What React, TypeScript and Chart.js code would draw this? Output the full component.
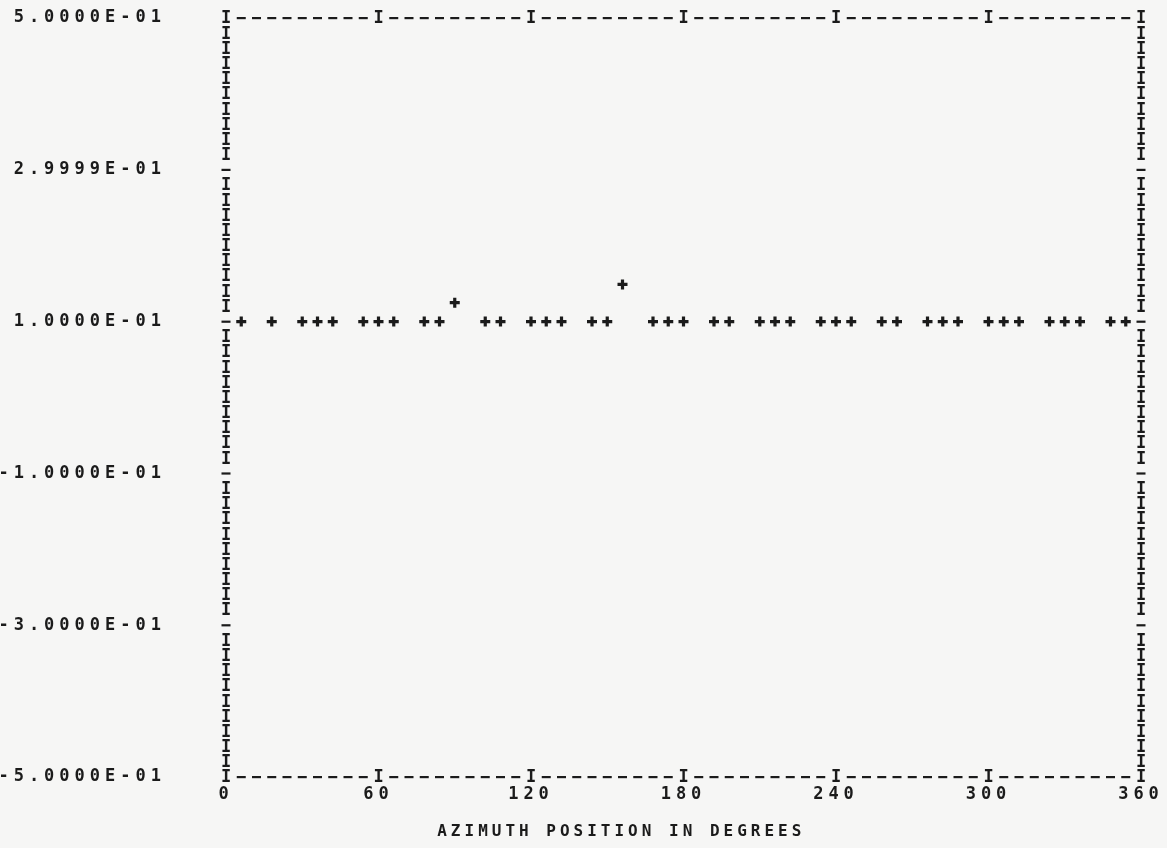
import React, { useEffect, useRef } from "react";
import { Chart, registerables } from "chart.js";

Chart.register(...registerables);

// ---- Data ----
const azimuthDeg = [
  6, 18, 30, 36, 42, 54, 60, 66, 78, 84, 90, 102, 108, 120, 126, 132, 144, 150,
  156, 168, 174, 180, 192, 198, 210, 216, 222, 234, 240, 246, 258, 264, 276,
  282, 288, 300, 306, 312, 324, 330, 336, 348, 354,
];
const responseValues = [
  0.1, 0.1, 0.1, 0.1, 0.1, 0.1, 0.1, 0.1, 0.1, 0.1, 0.125, 0.1, 0.1, 0.1, 0.1,
  0.1, 0.1, 0.1, 0.149, 0.1, 0.1, 0.1, 0.1, 0.1, 0.1, 0.1, 0.1, 0.1, 0.1, 0.1,
  0.1, 0.1, 0.1, 0.1, 0.1, 0.1, 0.1, 0.1, 0.1, 0.1, 0.1, 0.1, 0.1,
];
const yTickLabels = [
  "-5.0000E-01",
  "-3.0000E-01",
  "-1.0000E-01",
  "1.0000E-01",
  "2.9999E-01",
  "5.0000E-01",
];
const xTickLabels = ["0", "60", "120", "180", "240", "300", "360"];
const xAxisTitle = "AZIMUTH POSITION IN DEGREES";

const INK = "#1b1b1b";
const BG = "#f6f6f5";
const FONT_FAMILY = '"DejaVu Sans Mono", monospace';

const printerPlugin = {
  id: "printerFrame",
  beforeDraw(chart: any) {
    const ctx = chart.ctx;
    ctx.save();
    ctx.fillStyle = BG;
    ctx.fillRect(0, 0, chart.width, chart.height);
    ctx.restore();
    ctx.letterSpacing = "5px";
  },
  afterDraw(chart: any) {
    const ctx = chart.ctx;
    const xs = chart.scales.x;
    const ys = chart.scales.y;
    ctx.save();
    ctx.letterSpacing = "0px";
    ctx.fillStyle = INK;
    ctx.font = `bold 17px ${FONT_FAMILY}`;
    ctx.textAlign = "center";
    ctx.textBaseline = "middle";
    const yTop = ys.getPixelForValue(0.5);
    const yBot = ys.getPixelForValue(-0.5);
    // top / bottom rows: I at every 60 deg, dashes in between (6 deg columns)
    for (let c = 0; c <= 60; c++) {
      const x = xs.getPixelForValue(c * 6);
      for (const y of [yTop, yBot]) {
        if (c % 10 === 0) ctx.fillText("I", x, y + 1);
        else ctx.fillRect(x - 4.5, y - 1, 9, 2.2);
      }
    }
    // left / right columns
    const xl = xs.getPixelForValue(0);
    const xr = xs.getPixelForValue(360);
    for (let r = 1; r < 50; r++) {
      const v = -0.5 + r * 0.02;
      const y = ys.getPixelForValue(v);
      for (const x of [xl, xr]) {
        if (r % 10 === 0) ctx.fillRect(x - 4.5, y - 1, 9, 2.2);
        else ctx.fillText("I", x, y + 1);
      }
    }
    // axis title
    ctx.letterSpacing = "4px";
    ctx.font = `bold 16px ${FONT_FAMILY}`;
    ctx.fillText(
      xAxisTitle,
      xs.left + (xs.right - xs.left) * 0.432,
      xs.bottom - 16
    );
    ctx.restore();
  },
};

export default function App() {
  const canvasRef = useRef<HTMLCanvasElement | null>(null);

  useEffect(() => {
    if (!canvasRef.current) return;
    const points = azimuthDeg.map((x, i) => ({ x, y: responseValues[i] }));
    const chart = new Chart(canvasRef.current, {
      type: "scatter",
      data: {
        datasets: [
          {
            data: points,
            pointStyle: "cross",
            pointRadius: 5,
            pointBorderWidth: 3.2,
            borderColor: INK,
            backgroundColor: INK,
            showLine: false,
          },
        ],
      },
      plugins: [printerPlugin],
      options: {
        animation: false,
        responsive: true,
        maintainAspectRatio: false,
        layout: {
          autoPadding: false,
          padding: { left: 0, right: 26, top: 18, bottom: 0 },
        },
        plugins: {
          legend: { display: false },
          tooltip: { enabled: false },
          title: { display: false },
        },
        scales: {
          x: {
            type: "linear",
            min: 0,
            max: 360,
            grid: { display: false, drawTicks: false },
            border: { display: false },
            ticks: {
              stepSize: 60,
              color: INK,
              padding: 7,
              maxRotation: 0,
              font: { family: FONT_FAMILY, size: 17, weight: "bold" },
              callback: (_v: any, i: number) => xTickLabels[i],
            },
            afterFit: (s: any) => {
              s.height = 71;
              s.paddingLeft = 0;
              s.paddingRight = 0;
            },
          },
          y: {
            type: "linear",
            min: -0.5,
            max: 0.5,
            grid: { display: false, drawTicks: false },
            border: { display: false },
            ticks: {
              stepSize: 0.2,
              color: INK,
              padding: 60,
              font: { family: FONT_FAMILY, size: 17, weight: "bold" },
              callback: (_v: any, i: number) => yTickLabels[i],
            },
            afterFit: (s: any) => {
              s.width = 226;
              s.paddingTop = 0;
              s.paddingBottom = 0;
            },
          },
        },
      },
    });
    return () => chart.destroy();
  }, []);

  return (
    <div
      style={{
        position: "fixed",
        left: 0,
        top: 0,
        width: "1167px",
        height: "848px",
        background: BG,
      }}
    >
      <canvas ref={canvasRef} />
    </div>
  );
}
